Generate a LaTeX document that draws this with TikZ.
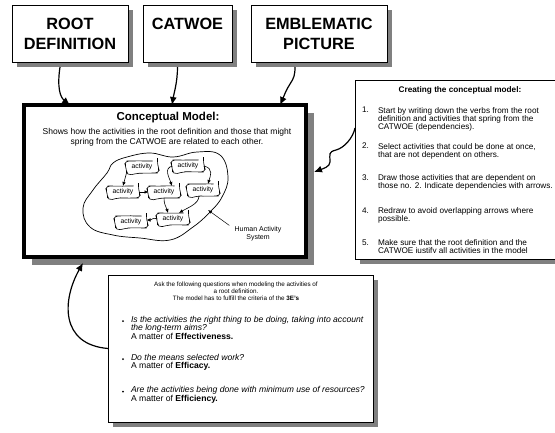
\documentclass[tikz,border=0pt]{standalone}
\usepackage{fontspec}
\setmainfont{Liberation Sans}
\usetikzlibrary{arrows.meta,decorations.pathmorphing,shadows,calc}

\begin{document}
\begin{tikzpicture}[x=1pt,y=-1pt,
  every node/.style={outer sep=0pt},
  shade5/.style={drop shadow={shadow xshift=5pt,shadow yshift=-5pt,fill=black!50,opacity=1}},
  shade8/.style={drop shadow={shadow xshift=8pt,shadow yshift=-8pt,fill=black!50,opacity=1}},
  topbox/.style={draw,line width=0.9pt,fill=white,anchor=north west,inner sep=0pt,
    align=center,font=\bfseries\fontsize{16.3}{20}\selectfont,minimum height=57pt,shade5},
  panel/.style={draw,line width=0.8pt,fill=white,anchor=north west,inner sep=0pt,shade5},
  bigarrow/.style={line width=1.2pt,-{Latex[length=8pt,width=7pt]}},
  smallarrow/.style={line width=0.6pt,-{Latex[length=4pt,width=3.5pt]}},
  activity/.style={draw,line width=0.6pt,fill=white,minimum width=31pt,minimum height=12pt,
    inner sep=1pt,font=\fontsize{6.8}{8}\selectfont,rounded corners=5pt,
    decorate,decoration={random steps,segment length=6pt,amplitude=0.4pt}},
  stepitem/.style={anchor=north west,inner sep=0pt,align=left,font=\fontsize{8.2}{8.4}\selectfont},
  qitem/.style={anchor=north west,inner sep=0pt,align=left,font=\fontsize{8.6}{8.7}\selectfont},
  qbullet/.style={circle,fill,inner sep=0pt,minimum size=2pt}
]
\useasboundingbox (0,0) rectangle (555,432);
\clip (0,0) rectangle (555,432);
\pgfmathsetseed{11}

% --- the three sources on top ---
\node[topbox,minimum width=116pt] (root) at (12,5) {ROOT\\DEFINITION};
\node[topbox,minimum width=89pt] (catwoe) at (143,5) {CATWOE\\\phantom{X}};
\node[topbox,minimum width=136pt] (emb) at (251,5) {EMBLEMATIC\\PICTURE};

% --- conceptual model panel ---
\node[draw,line width=3.5pt,fill=white,anchor=north west,inner sep=0pt,
      minimum width=282pt,minimum height=152pt,shade8] (model) at (24,105) {};
\node[font=\bfseries\fontsize{11.5}{14}\selectfont] (mtitle) at (168,118) {Conceptual Model:};
\node[font=\fontsize{8.5}{10}\selectfont,align=center] (msub) at (167,137)
  {Shows how the activities in the root definition and those that might\\
   spring from the CATWOE are related to each other.};

% human activity system outline
\draw[line width=0.7pt] plot[smooth cycle,tension=0.7] coordinates {
  (127,157) (150,153) (173,157) (197,152) (220,155) (228,177) (222,197)
  (210,212) (193,227) (170,240) (140,238) (113,235) (90,227) (83,208)
  (93,190) (107,173) (113,163)};
\coordinate (hasedge) at (208,210);

% activities
\node[activity] (a1) at (142,167) {activity};
\node[activity] (a2) at (188,166) {activity};
\node[activity] (a3) at (123,192) {activity};
\node[activity] (a4) at (164,192) {activity};
\node[activity] (a5) at (203,190) {activity};
\node[activity] (a6) at (173,219) {activity};
\node[activity] (a7) at (131,222) {activity};

\draw[smallarrow] (a1.south west) -- (a3.north);
\draw[smallarrow] (a3.east) -- (a4.west);
\draw[smallarrow] (a2.west) .. controls +(-9,2) and +(-3,-9) .. ([xshift=8pt]a4.north);
\draw[smallarrow] (a2.east) .. controls +(11,2) and +(2,-7) .. ([xshift=5pt]a5.north);
\draw[smallarrow] (a4.south) .. controls +(0,7) and +(-2,-7) .. ([xshift=-5pt]a6.north);
\draw[smallarrow] ([xshift=-4pt]a5.south) .. controls +(0,8) and +(8,-5) .. ([xshift=6pt]a6.north);
\draw[smallarrow] (a6.west) .. controls +(-5,-2) and +(6,0) .. ([yshift=2pt]a7.east);

\node[font=\fontsize{7}{8}\selectfont,align=center] (hasl) at (258,234) {Human Activity\\System};
\draw[line width=0.5pt,-{Latex[length=4pt,width=3pt]}] ([xshift=-2pt,yshift=-2pt]hasl.north west) -- (hasedge);

% --- steps panel on the right ---
\node[panel,minimum width=201pt,minimum height=179pt] (steps) at (355,80) {};
\begin{scope}
\clip (355,80) rectangle (556,252.5);
\node[font=\bfseries\fontsize{8.2}{9}\selectfont] (stitle) at (460,90) {Creating the conceptual model:};
\node[stepitem] (n1) at (362,107.1) {1.};
\node[stepitem] (s1) at (378,107.1) {Start by writing down the verbs from the root\\
  definition and activities that spring from the\\CATWOE (dependencies).};
\node[stepitem] (n2) at (362,143.1) {2.};
\node[stepitem] (s2) at (378,143.1) {Select activities that could be done at once,\\
  that are not dependent on others.};
\node[stepitem] (n3) at (362,174.6) {3.};
\node[stepitem] (s3) at (378,174.6) {Draw those activities that are dependent on\\
  those no. 2. Indicate dependencies with arrows.};
\node[stepitem] (n4) at (362,207.6) {4.};
\node[stepitem] (s4) at (378,207.6) {Redraw to avoid overlapping arrows where\\possible.};
\node[stepitem] (n5) at (362,239.6) {5.};
\node[stepitem] (s5) at (378,239.6) {Make sure that the root definition and the\\
  CATWOE justify all activities in the model};
\end{scope}

% --- questions panel at the bottom ---
\node[panel,minimum width=265pt,minimum height=147pt] (ques) at (108,275) {};
\node[font=\fontsize{6.3}{6.8}\selectfont,align=center] (qhead) at (236,291.5)
  {Ask the following questions when modeling the activities of\\
   a root definition.\\
   The model has to fulfill the criteria of the \textbf{3E's}};
\node[qbullet] (b1) at (123,321) {};
\node[qitem] (q1) at (131,316) {\textit{Is the activities the right thing to be doing, taking into account}\\
  \textit{the long-term aims?}\\A matter of \textbf{Effectiveness.}};
\node[qbullet] (b2) at (123,359) {};
\node[qitem] (q2) at (131,354) {\textit{Do the means selected work?}\\A matter of \textbf{Efficacy.}};
\node[qbullet] (b3) at (123,391.5) {};
\node[qitem] (q3) at (131,386.5) {\textit{Are the activities being done with minimum use of resources?}\\
  A matter of \textbf{Efficiency.}};

% --- connectors into the conceptual model ---
\draw[bigarrow] ([xshift=-10pt,yshift=-5pt]root.south) .. controls +(-3,20) and +(-10,-8) .. ([xshift=46pt]model.north west);
\draw[bigarrow] ([xshift=-10pt,yshift=-5pt]catwoe.south) .. controls +(0,15) and +(2,-12) .. ([xshift=148pt]model.north west);
\draw[bigarrow] ([xshift=-24pt,yshift=-5pt]emb.south)
  .. controls +(0,8) and +(4,-6) .. ($(emb.south)+(-29,22)$)
  .. controls +(-4,6) and +(4,-9) .. ([xshift=256pt]model.north west);
\draw[bigarrow] ([yshift=-48pt]steps.north west)
  .. controls +(-2,10) and +(8,-2) .. ($(steps.north west)+(-19,70)$)
  .. controls +(-8,2) and +(0,-8) .. ($(steps.north west)+(-25,82)$)
  .. controls +(0,5) and +(8,-3) .. ([xshift=8pt,yshift=-67pt]model.north east);
\draw[bigarrow] (ques.west) .. controls +(-48,-4) and +(-21,37) .. ([xshift=59pt,yshift=-6pt]model.south west);
\end{tikzpicture}
\end{document}
